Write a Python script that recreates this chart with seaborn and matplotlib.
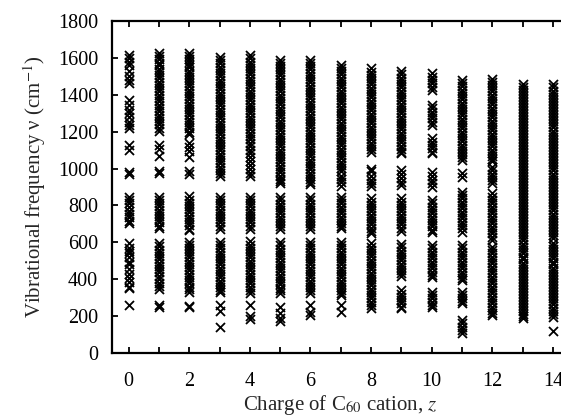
import matplotlib
matplotlib.use("Agg")
import matplotlib.pyplot as plt
from matplotlib.ticker import MultipleLocator
import seaborn as sns
import pandas as pd

# Vibrational frequencies (cm^-1), one list per charge z
freq_z0 = [1615, 1598, 1580, 1560, 1530, 1500, 1482, 1465,
           1370, 1345, 1320, 1300, 1280, 1255, 1235, 1218,
           1127, 1100, 980, 968,
           848, 830, 812, 790, 772, 755, 735, 718, 705,
           595, 570, 552, 540, 520, 495, 480, 455, 430, 405, 385, 360, 350,
           260]
freq_z1 = [1625, 1610, 1592, 1575, 1560, 1540, 1522, 1505, 1490, 1470, 1452, 1435,
           1418, 1400, 1382, 1365, 1345, 1328, 1310, 1292, 1275, 1258, 1240, 1222, 1205,
           1130, 1105, 1070, 985, 975,
           848, 830, 812, 795, 778, 760, 742, 725, 708, 690, 678,
           595, 578, 560, 542, 525, 508, 490, 472, 455, 438, 420, 400, 382, 365, 345,
           258, 250]
freq_z2 = [1628, 1612, 1596, 1580, 1563, 1548, 1530, 1514, 1498, 1480, 1462, 1445,
           1428, 1410, 1392, 1375, 1358, 1340, 1322, 1305, 1288, 1270, 1252, 1235, 1218,
           1200, 1190, 1138, 1115, 1095, 1065, 985, 972,
           850, 832, 815, 798, 780, 762, 745, 728, 710, 692, 675, 668,
           603, 588, 570, 552, 535, 518, 500, 482, 465, 448, 430, 412, 395, 378, 360,
           345, 333, 255, 248]
freq_z3 = [1605, 1588, 1570, 1552, 1535, 1518, 1500, 1482, 1465, 1448, 1430, 1412,
           1395, 1378, 1360, 1342, 1325, 1308, 1290, 1272, 1255, 1238, 1220, 1202,
           1185, 1168, 1150, 1132, 1115, 1098, 1080, 1062, 1045, 1028, 1010, 992, 975, 958,
           848, 830, 812, 795, 778, 760, 742, 725, 708, 690, 672,
           603, 585, 568, 550, 532, 515, 498, 480, 462, 445, 428, 410, 392, 375, 358,
           340, 330, 262, 228, 140]
freq_z4 = [1615, 1598, 1580, 1562, 1545, 1528, 1510, 1492, 1475, 1458, 1440, 1422,
           1405, 1388, 1370, 1352, 1335, 1318, 1300, 1282, 1265, 1248, 1230, 1212,
           1195, 1175, 1158, 1140, 1120, 1100, 1082, 1060, 1040, 1020, 1000, 978, 958,
           848, 830, 812, 795, 778, 760, 742, 725, 708, 690, 670,
           605, 588, 570, 552, 535, 518, 500, 482, 465, 448, 430, 412, 395, 378, 360,
           342, 328, 262, 200, 185]
freq_z5 = [1590, 1573, 1556, 1540, 1522, 1505, 1488, 1470, 1453, 1436, 1418, 1400,
           1383, 1366, 1348, 1330, 1313, 1296, 1278, 1260, 1243, 1226, 1208, 1190,
           1173, 1156, 1138, 1120, 1103, 1086, 1068, 1050, 1033, 1015, 998, 980, 962,
           945, 930, 920,
           846, 828, 810, 792, 775, 758, 740, 722, 705, 688, 670,
           600, 583, 565, 548, 530, 513, 495, 478, 460, 443, 425, 408, 390, 373, 355,
           340, 328, 250, 215, 188, 172]
freq_z6 = [1590, 1572, 1555, 1538, 1520, 1503, 1486, 1468, 1450, 1433, 1416, 1398,
           1380, 1363, 1346, 1328, 1310, 1293, 1276, 1258, 1240, 1223, 1206, 1188,
           1170, 1153, 1136, 1118, 1100, 1083, 1066, 1048, 1030, 1013, 996, 978, 960,
           943, 928, 918,
           846, 828, 810, 792, 775, 758, 740, 722, 705, 688, 672,
           602, 585, 567, 550, 532, 515, 497, 480, 462, 445, 427, 410, 392, 375, 357,
           340, 326, 258, 225, 205]
freq_z7 = [1562, 1545, 1528, 1510, 1493, 1476, 1458, 1440, 1423, 1406, 1388, 1370,
           1353, 1336, 1318, 1300, 1283, 1266, 1248, 1230, 1213, 1196, 1178, 1160,
           1143, 1126, 1108, 1090, 1073, 1056, 1038, 1020, 1003, 985, 962, 945, 925, 905,
           847, 829, 811, 793, 776, 758, 740, 722, 705, 688, 676,
           603, 585, 568, 550, 533, 515, 498, 480, 462, 445, 427, 410, 392, 375, 357,
           340, 325, 314, 258, 225]
freq_z8 = [1543, 1526, 1508, 1490, 1473, 1456, 1438, 1420, 1403, 1386, 1368, 1350,
           1333, 1316, 1298, 1280, 1263, 1246, 1228, 1210, 1193, 1176, 1158, 1140,
           1123, 1105, 1088,
           1000, 985, 962, 940, 920, 903,
           838, 820, 803, 785, 768, 750, 733, 715, 698, 680, 662, 650,
           594, 576, 559, 541, 524, 506, 489, 471, 454, 436, 419, 401, 384, 366, 349,
           331, 314, 296, 279, 261, 244]
freq_z9 = [1527, 1510, 1492, 1475, 1458, 1440, 1422, 1405, 1388, 1370, 1352, 1335,
           1318, 1300, 1282, 1265, 1248, 1230, 1212, 1195, 1178, 1160, 1142, 1125,
           1108, 1090, 1082,
           992, 970, 948, 928, 910,
           838, 820, 803, 785, 768, 750, 733, 715, 698, 680, 662,
           590, 572, 555, 537, 520, 502, 485, 467, 450, 432, 415,
           340, 322, 305, 287, 270, 252, 245]
freq_z10 = [1516, 1498, 1480, 1462, 1444, 1425,
            1344, 1326, 1308, 1290, 1272, 1254, 1236,
            1163, 1145, 1127, 1110, 1092, 1082,
            982, 960, 940, 920, 901,
            829, 811, 793, 776, 758, 740, 722, 704, 686, 668, 658,
            585, 567, 549, 531, 513, 495, 477, 459, 441, 423, 413,
            332, 314, 296, 278, 260, 251]
freq_z11 = [1480, 1462, 1445, 1428, 1410, 1392, 1375, 1358, 1340, 1322, 1305, 1288,
            1270, 1252, 1235, 1218, 1200, 1182, 1165, 1148, 1130, 1112, 1095, 1078,
            1060, 1046,
            975, 955,
            874, 856, 838, 820, 802, 784, 766, 748, 730, 712, 694, 676, 658,
            585, 567, 549, 531, 513, 495, 477, 459, 441, 423, 405, 396,
            332, 314, 296, 280, 271,
            180, 160, 140, 125, 110]
freq_z12 = [1488, 1470, 1453, 1436, 1418, 1400, 1383, 1366, 1348, 1330, 1313, 1296,
            1278, 1260, 1243, 1226, 1208, 1190, 1173, 1156, 1138, 1120, 1103, 1086,
            1068, 1050, 1040, 1010, 990, 972, 955, 937, 919,
            865, 847, 829, 811, 793, 775, 757, 739, 721, 703, 685, 667, 649, 631, 612,
            576, 558, 540, 522, 504, 486, 468, 450, 432, 414, 396, 378, 360, 342,
            324, 306, 288, 270, 252, 234, 218, 205]
freq_z13 = [1460, 1442, 1425, 1410, 1392, 1376, 1360, 1343, 1327, 1310, 1295, 1278,
            1262, 1245, 1230, 1213, 1197, 1180, 1165, 1148, 1132, 1115, 1100, 1083,
            1067, 1050, 1035, 1018, 1002, 986, 970, 953, 937, 920, 905, 888, 872,
            856, 840, 823, 807, 790, 775, 758, 742, 726, 710, 693, 677, 660, 645,
            628, 612, 590, 572, 556, 540, 523, 507, 490, 474, 458, 441, 425, 408,
            392, 376, 360, 343, 327, 310, 294, 278, 261, 245, 229, 212, 198, 188]
freq_z14 = [1460, 1440, 1423, 1406, 1390, 1373, 1356, 1340, 1323, 1306, 1290, 1273,
            1256, 1240, 1223, 1206, 1190, 1173, 1156, 1140, 1123, 1106, 1090, 1073,
            1056, 1040, 1023, 1006, 990, 973, 956, 940, 923, 906, 890, 873, 856,
            840, 823, 806, 790, 773, 756, 740, 723, 706, 690, 673, 656, 640, 622,
            596, 580, 563, 546, 530, 513, 496, 480, 463, 446, 430, 413, 396, 380,
            363, 346, 330, 313, 296, 280, 263, 246, 230, 213, 196, 120]

charges = list(range(15))
freq_lists = [freq_z0, freq_z1, freq_z2, freq_z3, freq_z4, freq_z5, freq_z6, freq_z7,
              freq_z8, freq_z9, freq_z10, freq_z11, freq_z12, freq_z13, freq_z14]

rows = []
for z, fl in zip(charges, freq_lists):
    for f in fl:
        rows.append({"z": z, "freq": f})
df = pd.DataFrame(rows)

sns.set_style("ticks")
plt.rcParams["font.family"] = ["Liberation Serif", "DejaVu Serif"]
plt.rcParams["mathtext.fontset"] = "stix"

fig = plt.figure(figsize=(5.61, 4.16), dpi=100)
ax = fig.add_axes([112 / 561, 63 / 416, 456 / 561, 332 / 416])

sns.scatterplot(data=df, x="z", y="freq", marker="x", color="black",
                s=42, linewidth=1.3, ax=ax, legend=False)

ax.set_xlim(-0.55, 14.5)
ax.set_ylim(0, 1800)
ax.xaxis.set_major_locator(MultipleLocator(2))
ax.xaxis.set_minor_locator(MultipleLocator(1))
ax.yaxis.set_major_locator(MultipleLocator(200))
ax.tick_params(which="both", direction="in", top=True, right=False,
               length=4, width=1.3, labelsize=14.5, color="black", labelcolor="black")
ax.tick_params(axis="y", pad=10)
ax.tick_params(axis="x", pad=14)
for sp in ax.spines.values():
    sp.set_linewidth(1.6)
    sp.set_color("black")

ax.set_xlabel("Charge of C$_{60}$ cation, $z$", fontsize=15, labelpad=1)
ax.set_ylabel("Vibrational frequency ν (cm$^{-1}$)", fontsize=15, labelpad=7)

fig.savefig("out.png", dpi=100)
